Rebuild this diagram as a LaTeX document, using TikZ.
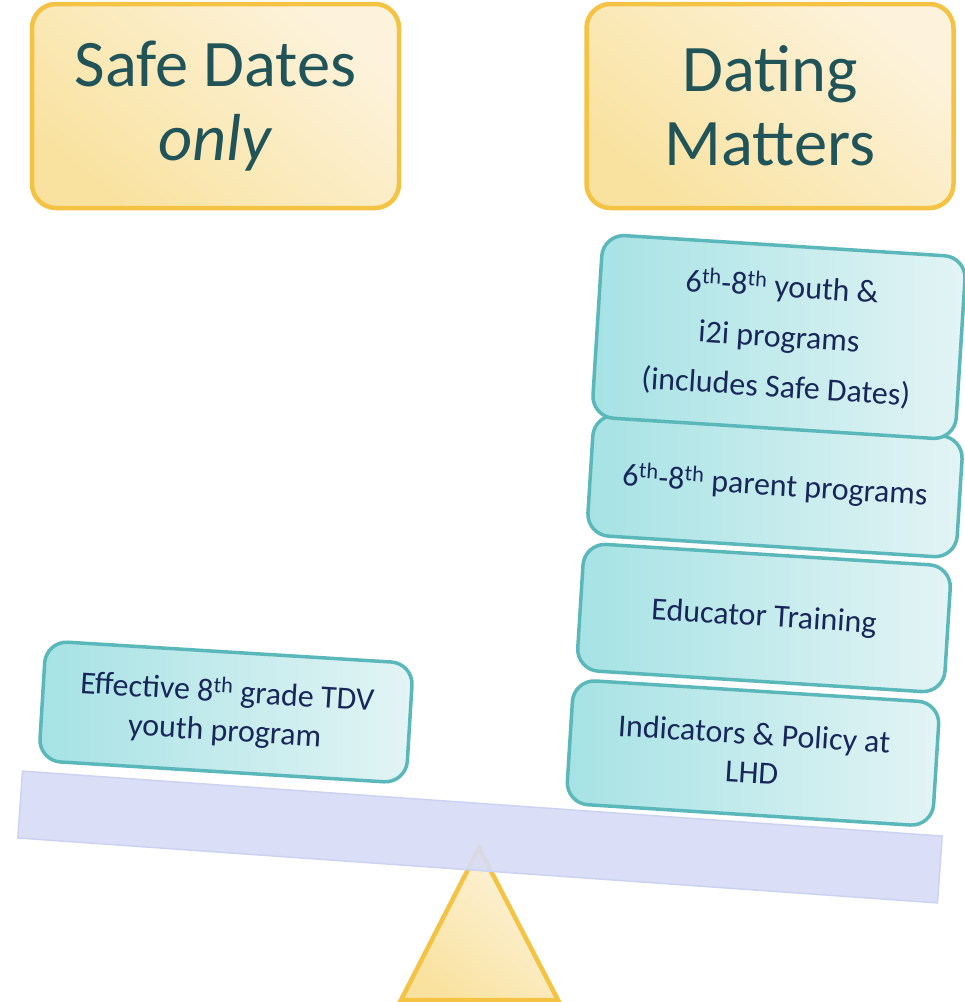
\documentclass[tikz,border=0pt]{standalone}
\usepackage{fontspec}
\setmainfont{Carlito}
\definecolor{titletext}{HTML}{215458}
\definecolor{boxtext}{HTML}{18275A}
\definecolor{tealline}{HTML}{5BB8BA}
\definecolor{tealdark}{HTML}{A6E2E4}
\definecolor{teallight}{HTML}{E3F4F5}
\definecolor{beamfill}{HTML}{D6DCF6}
\definecolor{beamline}{HTML}{CCD3F2}
\definecolor{orangeline}{HTML}{F5C344}
\definecolor{yellowdark}{HTML}{F9E2A0}
\definecolor{yellowlight}{HTML}{FDF3DC}
\tikzset{
  titlebox/.style={draw=orangeline, line width=4.5pt, rounded corners=24pt,
    top color=yellowlight, bottom color=yellowdark, shading angle=-40,
    minimum width=367pt, minimum height=204pt, align=center,
    text=titletext, font=\fontsize{66.5}{74}\selectfont},
  tealbox/.style={draw=tealline, line width=3.5pt, rounded corners=22pt,
    left color=tealdark, right color=teallight,
    align=center, text=boxtext, font=\fontsize{32}{39}\selectfont},
  beambar/.style={draw=beamline, line width=1.5pt, fill=beamfill, fill opacity=0.9,
    minimum width=922pt, minimum height=67pt, inner sep=0pt},
  fulcrum/.style={draw=orangeline, line width=4.5pt, line join=miter,
    top color=yellowlight, bottom color=yellowdark, shading angle=-40}
}
\begin{document}
\begin{tikzpicture}[x=1pt,y=-1pt]
\useasboundingbox (0,0) rectangle (965,1002);
% fulcrum
\coordinate (apex) at (479,848);
\coordinate (bl) at (401,1000);
\coordinate (br) at (558,1000);
\path[fulcrum] (apex) -- (br) -- (bl) -- cycle;
% beam
\node[beambar, rotate=-4.04] (beam) at (480,837) {};
% title boxes
\node[titlebox] (sd) at (215.5,106) {Safe Dates\\\textit{only}};
\node[titlebox] (dm) at (770,106) {Dating\\Matters};
% right stack
\node[tealbox, rotate=-3.6, minimum width=367pt, minimum height=124pt] (ind) at (753,753)
  {Indicators \& Policy at\\LHD};
\node[tealbox, rotate=-3.6, minimum width=368pt, minimum height=127pt] (edu) at (764,618)
  {Educator Training};
\node[tealbox, rotate=-3.6, minimum width=370pt, minimum height=121pt] (par) at (775,486)
  {6\textsuperscript{th}-8\textsuperscript{th} parent programs};
\node[tealbox, rotate=-3.6, minimum width=364pt, minimum height=183pt,
  font=\fontsize{32}{50}\selectfont] (you) at (779,337)
  {6\textsuperscript{th}-8\textsuperscript{th} youth \&\\i2i programs\\(includes Safe Dates)};
% left box
\node[tealbox, rotate=-3.5, minimum width=368pt, minimum height=120pt] (eff) at (226,712)
  {Effective 8\textsuperscript{th} grade TDV\\youth program};
\end{tikzpicture}
\end{document}
